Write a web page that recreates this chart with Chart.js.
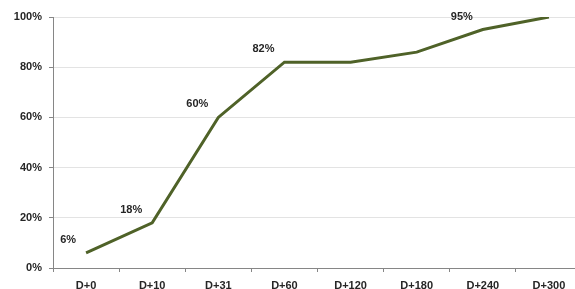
<!DOCTYPE html>
<html>
<head>
<meta charset="utf-8">
<script src="https://cdn.jsdelivr.net/npm/chart.js@4"></script>
<style>
  html, body { margin: 0; padding: 0; overflow: hidden; background: #fff; }
  canvas { display: block; }
</style>
</head>
<body>
<canvas id="chart" width="582" height="300"></canvas>
<script>
var days = ['D+0', 'D+10', 'D+31', 'D+60', 'D+120', 'D+180', 'D+240', 'D+300']
var share = [6, 18, 60, 82, 82, 86, 95, 100]
// only some points carry a label in the original
var shareLabels = ['6%', '18%', '60%', '82%', '', '', '95%', '']
var yTicks = [0, 20, 40, 60, 80, 100]

var pointLabels = {
  id: 'pointLabels',
  afterDatasetsDraw: function(chart) {
    var ctx = chart.ctx
    var meta = chart.getDatasetMeta(0)
    ctx.save()
    ctx.font = 'bold 11px "Liberation Sans", Arial, sans-serif'
    ctx.fillStyle = '#262626'
    ctx.textAlign = 'right'
    ctx.textBaseline = 'middle'
    meta.data.forEach(function(pt, i) {
      if (!shareLabels[i]) return
      ctx.fillText(shareLabels[i], pt.x - 10, pt.y - 13)
    })
    ctx.restore()
  }
}

var ctx = document.getElementById('chart').getContext('2d')
var myChart = new Chart(ctx, {
  type: 'line',
  data: {
    labels: days,
    datasets: [{
      data: share,
      borderColor: '#4f6228',
      borderWidth: 3,
      tension: 0,
      pointRadius: 0,
      fill: false
    }]
  },
  options: {
    responsive: false,
    animation: false,
    layout: { padding: { top: 17, left: 0, right: 0, bottom: 0 } },
    plugins: { legend: { display: false }, tooltip: { enabled: false } },
    scales: {
      x: {
        offset: true,
        grid: { offset: true, drawOnChartArea: false, drawTicks: true, tickLength: 4, tickColor: '#868686' },
        border: { color: '#868686', width: 1 },
        ticks: {
          color: '#262626',
          padding: 7,
          maxRotation: 0,
          font: { family: '"Liberation Sans", Arial, sans-serif', size: 11, weight: 'bold' }
        },
        afterFit: function(scale) { scale.height = 32 }
      },
      y: {
        min: 0,
        max: 100,
        afterBuildTicks: function(scale) {
          scale.ticks = yTicks.map(function(v) { return { value: v } })
        },
        grid: { color: '#e3e3e3', tickLength: 4, tickColor: '#868686' },
        border: { color: '#868686', width: 1 },
        ticks: {
          color: '#262626',
          padding: 7,
          callback: function(v) { return v + '%' },
          font: { family: '"Liberation Sans", Arial, sans-serif', size: 11, weight: 'bold' }
        },
        afterFit: function(scale) { scale.width = 53 }
      }
    }
  },
  plugins: [pointLabels]
})
</script>
</body>
</html>
